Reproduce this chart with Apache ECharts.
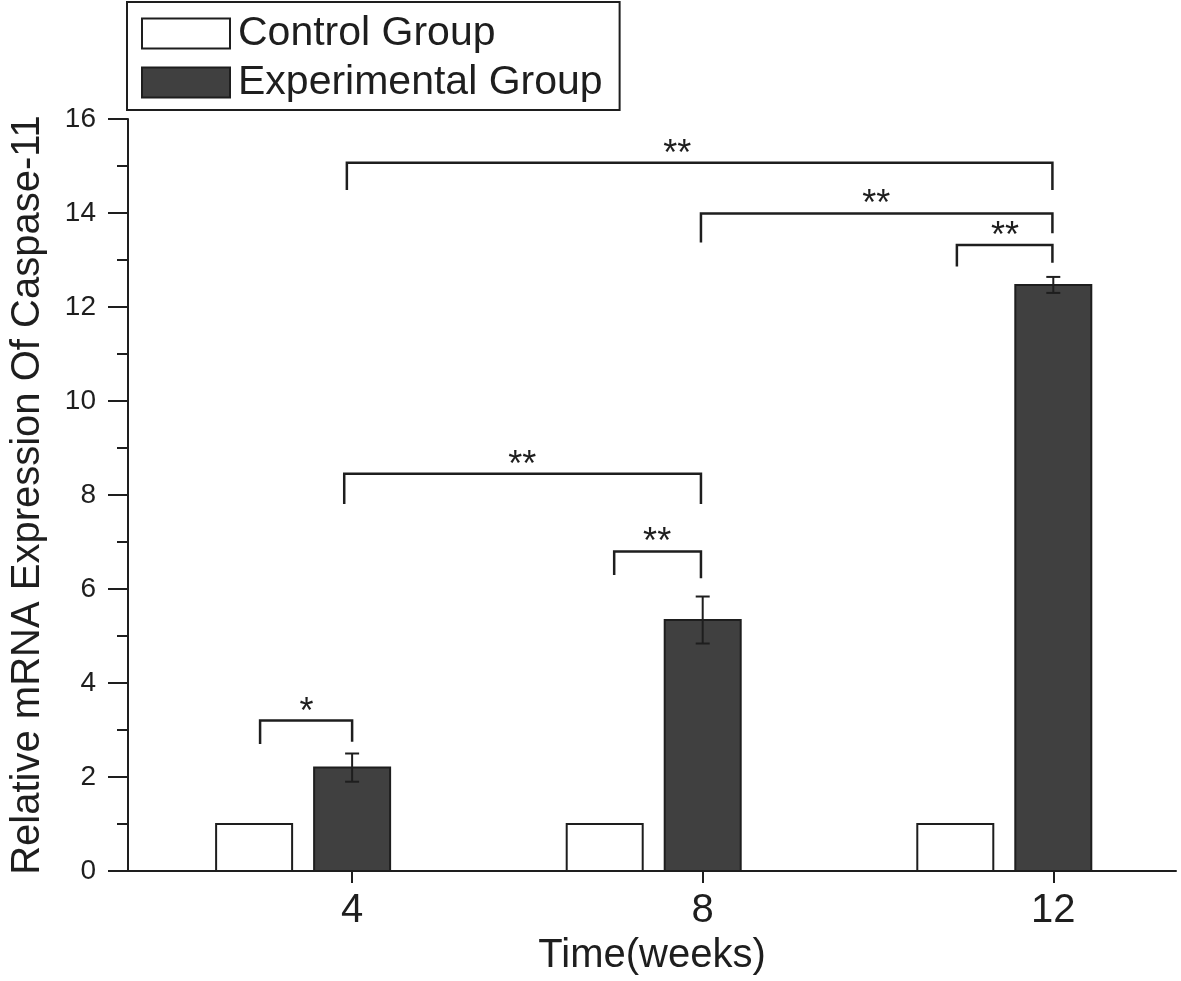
<!DOCTYPE html>
<html>
<head>
<meta charset="utf-8">
<script src="https://cdn.jsdelivr.net/npm/echarts@6/dist/echarts.min.js"></script>
<style>html,body{margin:0;padding:0;background:#fff;}#chart{width:1181px;height:981px;}</style>
</head>
<body>
<div id="chart"></div>
<script>
// ---- data ----
const weeks = [4, 8, 12];
const controlValues = [1.0, 1.0, 1.0];
const experimentalValues = [2.2, 5.34, 12.47];
const experimentalErrors = [0.3, 0.5, 0.17];

// significance brackets (data coordinates)
const bracketLeftX   = [2.95, 6.99, 3.91, 10.90, 7.98, 3.94];
const bracketRightX  = [4.00, 7.98, 7.98, 11.99, 11.99, 11.99];
const bracketTopY    = [3.20, 6.80, 8.45, 13.32, 13.99, 15.07];
const bracketLeftEnd = [2.70, 6.30, 7.81, 12.86, 13.37, 14.49];
const bracketRightEnd= [2.75, 6.23, 7.81, 12.94, 13.57, 14.49];
const bracketLabelX  = [3.48, 7.48, 5.94, 11.45, 9.98, 7.71];
const bracketLabels  = ['*', '**', '**', '**', '**', '**'];

const yTickInterval = 2;
const xTickValues = weeks;

const FONT = "'Liberation Sans', Arial, sans-serif";
const INK = '#1e1e1e';
const DARK = '#404040';

function barRenderer(offsetPx, fill, withErr) {
  return function (params, api) {
    const x = api.value(0), v = api.value(1);
    const top = api.coord([x, v]);
    const base = api.coord([x, 0]);
    const cx = top[0] + offsetPx;
    const w = 76;
    const children = [{
      type: 'rect',
      shape: { x: cx - w / 2, y: top[1], width: w, height: base[1] - top[1] },
      style: { fill: fill, stroke: INK, lineWidth: 2 }
    }];
    if (withErr) {
      const e = api.value(2);
      const yHi = api.coord([x, v + e])[1];
      const yLo = api.coord([x, v - e])[1];
      const cap = 7;
      children.push({ type: 'line', shape: { x1: cx, y1: yHi, x2: cx, y2: yLo }, style: { stroke: INK, lineWidth: 2 } });
      children.push({ type: 'line', shape: { x1: cx - cap, y1: yHi, x2: cx + cap, y2: yHi }, style: { stroke: INK, lineWidth: 2 } });
      children.push({ type: 'line', shape: { x1: cx - cap, y1: yLo, x2: cx + cap, y2: yLo }, style: { stroke: INK, lineWidth: 2 } });
    }
    return { type: 'group', children: children };
  };
}

const chart = echarts.init(document.getElementById('chart'), null, { renderer: 'canvas' });

const option = {
  animation: false,
  backgroundColor: '#ffffff',
  textStyle: { fontFamily: FONT, color: INK },
  grid: { left: 128, right: 5, top: 119, bottom: 110 },
  legend: {
    left: 127, top: 2, orient: 'vertical',
    padding: [11, 17, 7, 14],
    itemGap: 8, itemWidth: 88, itemHeight: 30,
    borderColor: INK, borderWidth: 2,
    selectedMode: false,
    icon: 'rect',
    textStyle: { fontSize: 41, color: INK, fontFamily: FONT, padding: [0, 0, 0, 3] },
    data: [
      { name: 'Control Group', itemStyle: { color: '#ffffff', borderColor: INK, borderWidth: 2 } },
      { name: 'Experimental Group', itemStyle: { color: DARK, borderColor: INK, borderWidth: 2 } }
    ]
  },
  xAxis: {
    type: 'value', min: 1.443, max: 13.4,
    name: 'Time(weeks)', nameLocation: 'middle', nameGap: 46,
    nameTextStyle: { fontSize: 40, color: INK, fontFamily: FONT },
    axisLine: { show: true, onZero: false, lineStyle: { color: INK, width: 2 } },
    axisTick: { show: true, customValues: xTickValues, length: 12, lineStyle: { color: INK, width: 2 } },
    axisLabel: { customValues: xTickValues, fontSize: 40, margin: 20, color: INK, fontFamily: FONT },
    splitLine: { show: false }
  },
  yAxis: {
    type: 'value', min: 0, max: 16, interval: yTickInterval,
    name: 'Relative mRNA Expression Of Caspase-11', nameLocation: 'middle', nameGap: 80,
    nameTextStyle: { fontSize: 40, color: INK, fontFamily: FONT },
    axisLine: { show: true, lineStyle: { color: INK, width: 2 } },
    axisTick: { show: true, length: 20, lineStyle: { color: INK, width: 2 } },
    minorTick: { show: true, splitNumber: 2, length: 11, lineStyle: { color: INK, width: 2 } },
    axisLabel: { fontSize: 28, margin: 32, color: INK, fontFamily: FONT },
    splitLine: { show: false }
  },
  series: [
    {
      name: 'Control Group', type: 'custom',
      itemStyle: { color: '#ffffff', borderColor: INK, borderWidth: 2 },
      renderItem: barRenderer(-98, '#ffffff', false),
      data: weeks.map((w, i) => [w, controlValues[i]])
    },
    {
      name: 'Experimental Group', type: 'custom',
      itemStyle: { color: DARK, borderColor: INK, borderWidth: 2 },
      renderItem: barRenderer(0, DARK, true),
      data: weeks.map((w, i) => [w, experimentalValues[i], experimentalErrors[i]])
    },
    {
      name: 'brackets', type: 'custom', silent: true,
      renderItem: function (params, api) {
        const i = params.dataIndex;
        const l = api.coord([api.value(0), api.value(2)]);
        const r = api.coord([api.value(1), api.value(2)]);
        const le = api.coord([api.value(0), api.value(3)]);
        const re = api.coord([api.value(1), api.value(4)]);
        const lab = api.coord([api.value(5), api.value(2)]);
        return {
          type: 'group',
          children: [
            { type: 'polyline', shape: { points: [[le[0], le[1]], [l[0], l[1]], [r[0], r[1]], [re[0], re[1]]] },
              style: { stroke: INK, lineWidth: 2.5, fill: null } },
            { type: 'text', x: lab[0], y: lab[1] + 10,
              style: { text: bracketLabels[i], fontSize: 36, fontFamily: FONT, fill: INK, align: 'center', verticalAlign: 'bottom' } }
          ]
        };
      },
      data: bracketLeftX.map((x, i) => [x, bracketRightX[i], bracketTopY[i], bracketLeftEnd[i], bracketRightEnd[i], bracketLabelX[i]])
    }
  ]
};
chart.setOption(option);
</script>
</body>
</html>
